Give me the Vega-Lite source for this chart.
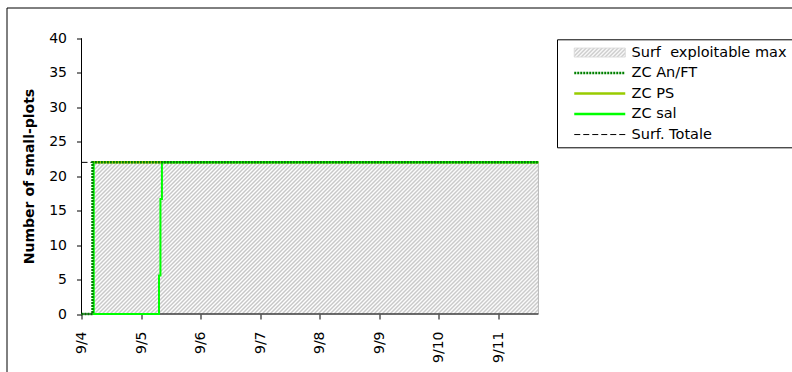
{
  "$schema": "https://vega.github.io/schema/vega-lite/v6.json",
  "width": 786,
  "height": 365,
  "autosize": {"type": "none"},
  "padding": {"left": 6.5, "top": 7.5, "right": 0, "bottom": 0},
  "background": "white",
  "config": {"view": {"stroke": "black", "strokeWidth": 1}},
  "datasets": {
    "series": [
      {"s": "ZC An/FT", "t": 4.0, "v": 0, "o": 1},
      {"s": "ZC An/FT", "t": 4.185, "v": 0, "o": 2},
      {"s": "ZC An/FT", "t": 4.185, "v": 22, "o": 3},
      {"s": "ZC An/FT", "t": 11.67, "v": 22, "o": 4},
      {"s": "ZC PS", "t": 4.195, "v": 22, "o": 1},
      {"s": "ZC PS", "t": 11.67, "v": 22, "o": 2},
      {"s": "ZC sal", "t": 4.205, "v": 22, "o": 1},
      {"s": "ZC sal", "t": 4.205, "v": 0, "o": 2},
      {"s": "ZC sal", "t": 5.301, "v": 0, "o": 3},
      {"s": "ZC sal", "t": 5.301, "v": 5.6, "o": 4},
      {"s": "ZC sal", "t": 5.325, "v": 5.6, "o": 5},
      {"s": "ZC sal", "t": 5.325, "v": 16.7, "o": 6},
      {"s": "ZC sal", "t": 5.35, "v": 16.7, "o": 7},
      {"s": "ZC sal", "t": 5.35, "v": 22, "o": 8},
      {"s": "ZC sal", "t": 11.67, "v": 22, "o": 9},
      {"s": "Surf. Totale", "t": 4.0, "v": 22, "o": 1},
      {"s": "Surf. Totale", "t": 11.67, "v": 22, "o": 2}
    ],
    "surface": [
      {"s": "Surf  exploitable max", "t": 4.205, "t2": 11.67, "v": 22, "v2": 0}
    ],
    "axislines": [
      {"k": "y", "t": 4, "t2": 4, "v": 0, "v2": 40},
      {"k": "x", "t": 4, "t2": 11.67, "v": 0, "v2": 0}
    ]
  },
  "encoding": {
    "x": {
      "field": "t", "type": "quantitative",
      "scale": {"domain": [2.741, 15.935], "nice": false, "zero": false},
      "axis": {
        "values": [4, 5, 6, 7, 8, 9, 10, 11],
        "offset": -58.5, "domain": false, "grid": false,
        "tickSize": 5, "tickColor": "black", "tickWidth": 1,
        "labelAngle": -90, "labelExpr": "'9/' + datum.value",
        "labelPadding": 12, "labelFont": "DejaVu Sans", "labelFontSize": 14,
        "labelColor": "black", "labelFlush": false, "labelOverlap": false,
        "title": null
      }
    },
    "y": {
      "field": "v", "type": "quantitative",
      "scale": {"domain": [-8.487, 44.469], "nice": false, "zero": false},
      "axis": {
        "values": [0, 5, 10, 15, 20, 25, 30, 35, 40],
        "offset": -75, "domain": false, "grid": false,
        "tickSize": 5, "tickColor": "black", "tickWidth": 1,
        "labelPadding": 10, "labelFont": "DejaVu Sans", "labelFontSize": 14,
        "labelColor": "black",
        "title": "Number of small-plots", "titleFont": "DejaVu Sans",
        "titleFontSize": 14, "titleFontWeight": "bold", "titleColor": "black",
        "titlePadding": 12, "titleY": 168.5
      }
    }
  },
  "layer": [
    {
      "data": {"name": "surface"},
      "mark": {
        "type": "rect", "stroke": "#b8b8b8", "strokeWidth": 1,
        "fill": {
          "gradient": "linear", "x1": 0, "y1": 0, "x2": 1.6108, "y2": 0.54876,
          "stops": [
            {"offset":0.0,"color":"#c6c6c6"},{"offset":0.0025,"color":"#fff"},{"offset":0.005,"color":"#c6c6c6"},{"offset":0.0075,"color":"#fff"},
            {"offset":0.01,"color":"#c6c6c6"},{"offset":0.0125,"color":"#fff"},{"offset":0.015,"color":"#c6c6c6"},{"offset":0.0175,"color":"#fff"},
            {"offset":0.02,"color":"#c6c6c6"},{"offset":0.0225,"color":"#fff"},{"offset":0.025,"color":"#c6c6c6"},{"offset":0.0275,"color":"#fff"},
            {"offset":0.03,"color":"#c6c6c6"},{"offset":0.0325,"color":"#fff"},{"offset":0.035,"color":"#c6c6c6"},{"offset":0.0375,"color":"#fff"},
            {"offset":0.04,"color":"#c6c6c6"},{"offset":0.0425,"color":"#fff"},{"offset":0.045,"color":"#c6c6c6"},{"offset":0.0475,"color":"#fff"},
            {"offset":0.05,"color":"#c6c6c6"},{"offset":0.0525,"color":"#fff"},{"offset":0.055,"color":"#c6c6c6"},{"offset":0.0575,"color":"#fff"},
            {"offset":0.06,"color":"#c6c6c6"},{"offset":0.0625,"color":"#fff"},{"offset":0.065,"color":"#c6c6c6"},{"offset":0.0675,"color":"#fff"},
            {"offset":0.07,"color":"#c6c6c6"},{"offset":0.0725,"color":"#fff"},{"offset":0.075,"color":"#c6c6c6"},{"offset":0.0775,"color":"#fff"},
            {"offset":0.08,"color":"#c6c6c6"},{"offset":0.0825,"color":"#fff"},{"offset":0.085,"color":"#c6c6c6"},{"offset":0.0875,"color":"#fff"},
            {"offset":0.09,"color":"#c6c6c6"},{"offset":0.0925,"color":"#fff"},{"offset":0.095,"color":"#c6c6c6"},{"offset":0.0975,"color":"#fff"},
            {"offset":0.10,"color":"#c6c6c6"},{"offset":0.1025,"color":"#fff"},{"offset":0.105,"color":"#c6c6c6"},{"offset":0.1075,"color":"#fff"},
            {"offset":0.11,"color":"#c6c6c6"},{"offset":0.1125,"color":"#fff"},{"offset":0.115,"color":"#c6c6c6"},{"offset":0.1175,"color":"#fff"},
            {"offset":0.12,"color":"#c6c6c6"},{"offset":0.1225,"color":"#fff"},{"offset":0.125,"color":"#c6c6c6"},{"offset":0.1275,"color":"#fff"},
            {"offset":0.13,"color":"#c6c6c6"},{"offset":0.1325,"color":"#fff"},{"offset":0.135,"color":"#c6c6c6"},{"offset":0.1375,"color":"#fff"},
            {"offset":0.14,"color":"#c6c6c6"},{"offset":0.1425,"color":"#fff"},{"offset":0.145,"color":"#c6c6c6"},{"offset":0.1475,"color":"#fff"},
            {"offset":0.15,"color":"#c6c6c6"},{"offset":0.1525,"color":"#fff"},{"offset":0.155,"color":"#c6c6c6"},{"offset":0.1575,"color":"#fff"},
            {"offset":0.16,"color":"#c6c6c6"},{"offset":0.1625,"color":"#fff"},{"offset":0.165,"color":"#c6c6c6"},{"offset":0.1675,"color":"#fff"},
            {"offset":0.17,"color":"#c6c6c6"},{"offset":0.1725,"color":"#fff"},{"offset":0.175,"color":"#c6c6c6"},{"offset":0.1775,"color":"#fff"},
            {"offset":0.18,"color":"#c6c6c6"},{"offset":0.1825,"color":"#fff"},{"offset":0.185,"color":"#c6c6c6"},{"offset":0.1875,"color":"#fff"},
            {"offset":0.19,"color":"#c6c6c6"},{"offset":0.1925,"color":"#fff"},{"offset":0.195,"color":"#c6c6c6"},{"offset":0.1975,"color":"#fff"},
            {"offset":0.20,"color":"#c6c6c6"},{"offset":0.2025,"color":"#fff"},{"offset":0.205,"color":"#c6c6c6"},{"offset":0.2075,"color":"#fff"},
            {"offset":0.21,"color":"#c6c6c6"},{"offset":0.2125,"color":"#fff"},{"offset":0.215,"color":"#c6c6c6"},{"offset":0.2175,"color":"#fff"},
            {"offset":0.22,"color":"#c6c6c6"},{"offset":0.2225,"color":"#fff"},{"offset":0.225,"color":"#c6c6c6"},{"offset":0.2275,"color":"#fff"},
            {"offset":0.23,"color":"#c6c6c6"},{"offset":0.2325,"color":"#fff"},{"offset":0.235,"color":"#c6c6c6"},{"offset":0.2375,"color":"#fff"},
            {"offset":0.24,"color":"#c6c6c6"},{"offset":0.2425,"color":"#fff"},{"offset":0.245,"color":"#c6c6c6"},{"offset":0.2475,"color":"#fff"},
            {"offset":0.25,"color":"#c6c6c6"},{"offset":0.2525,"color":"#fff"},{"offset":0.255,"color":"#c6c6c6"},{"offset":0.2575,"color":"#fff"},
            {"offset":0.26,"color":"#c6c6c6"},{"offset":0.2625,"color":"#fff"},{"offset":0.265,"color":"#c6c6c6"},{"offset":0.2675,"color":"#fff"},
            {"offset":0.27,"color":"#c6c6c6"},{"offset":0.2725,"color":"#fff"},{"offset":0.275,"color":"#c6c6c6"},{"offset":0.2775,"color":"#fff"},
            {"offset":0.28,"color":"#c6c6c6"},{"offset":0.2825,"color":"#fff"},{"offset":0.285,"color":"#c6c6c6"},{"offset":0.2875,"color":"#fff"},
            {"offset":0.29,"color":"#c6c6c6"},{"offset":0.2925,"color":"#fff"},{"offset":0.295,"color":"#c6c6c6"},{"offset":0.2975,"color":"#fff"},
            {"offset":0.30,"color":"#c6c6c6"},{"offset":0.3025,"color":"#fff"},{"offset":0.305,"color":"#c6c6c6"},{"offset":0.3075,"color":"#fff"},
            {"offset":0.31,"color":"#c6c6c6"},{"offset":0.3125,"color":"#fff"},{"offset":0.315,"color":"#c6c6c6"},{"offset":0.3175,"color":"#fff"},
            {"offset":0.32,"color":"#c6c6c6"},{"offset":0.3225,"color":"#fff"},{"offset":0.325,"color":"#c6c6c6"},{"offset":0.3275,"color":"#fff"},
            {"offset":0.33,"color":"#c6c6c6"},{"offset":0.3325,"color":"#fff"},{"offset":0.335,"color":"#c6c6c6"},{"offset":0.3375,"color":"#fff"},
            {"offset":0.34,"color":"#c6c6c6"},{"offset":0.3425,"color":"#fff"},{"offset":0.345,"color":"#c6c6c6"},{"offset":0.3475,"color":"#fff"},
            {"offset":0.35,"color":"#c6c6c6"},{"offset":0.3525,"color":"#fff"},{"offset":0.355,"color":"#c6c6c6"},{"offset":0.3575,"color":"#fff"},
            {"offset":0.36,"color":"#c6c6c6"},{"offset":0.3625,"color":"#fff"},{"offset":0.365,"color":"#c6c6c6"},{"offset":0.3675,"color":"#fff"},
            {"offset":0.37,"color":"#c6c6c6"},{"offset":0.3725,"color":"#fff"},{"offset":0.375,"color":"#c6c6c6"},{"offset":0.3775,"color":"#fff"},
            {"offset":0.38,"color":"#c6c6c6"},{"offset":0.3825,"color":"#fff"},{"offset":0.385,"color":"#c6c6c6"},{"offset":0.3875,"color":"#fff"},
            {"offset":0.39,"color":"#c6c6c6"},{"offset":0.3925,"color":"#fff"},{"offset":0.395,"color":"#c6c6c6"},{"offset":0.3975,"color":"#fff"},
            {"offset":0.40,"color":"#c6c6c6"},{"offset":0.4025,"color":"#fff"},{"offset":0.405,"color":"#c6c6c6"},{"offset":0.4075,"color":"#fff"},
            {"offset":0.41,"color":"#c6c6c6"},{"offset":0.4125,"color":"#fff"},{"offset":0.415,"color":"#c6c6c6"},{"offset":0.4175,"color":"#fff"},
            {"offset":0.42,"color":"#c6c6c6"},{"offset":0.4225,"color":"#fff"},{"offset":0.425,"color":"#c6c6c6"},{"offset":0.4275,"color":"#fff"},
            {"offset":0.43,"color":"#c6c6c6"},{"offset":0.4325,"color":"#fff"},{"offset":0.435,"color":"#c6c6c6"},{"offset":0.4375,"color":"#fff"},
            {"offset":0.44,"color":"#c6c6c6"},{"offset":0.4425,"color":"#fff"},{"offset":0.445,"color":"#c6c6c6"},{"offset":0.4475,"color":"#fff"},
            {"offset":0.45,"color":"#c6c6c6"},{"offset":0.4525,"color":"#fff"},{"offset":0.455,"color":"#c6c6c6"},{"offset":0.4575,"color":"#fff"},
            {"offset":0.46,"color":"#c6c6c6"},{"offset":0.4625,"color":"#fff"},{"offset":0.465,"color":"#c6c6c6"},{"offset":0.4675,"color":"#fff"},
            {"offset":0.47,"color":"#c6c6c6"},{"offset":0.4725,"color":"#fff"},{"offset":0.475,"color":"#c6c6c6"},{"offset":0.4775,"color":"#fff"},
            {"offset":0.48,"color":"#c6c6c6"},{"offset":0.4825,"color":"#fff"},{"offset":0.485,"color":"#c6c6c6"},{"offset":0.4875,"color":"#fff"},
            {"offset":0.49,"color":"#c6c6c6"},{"offset":0.4925,"color":"#fff"},{"offset":0.495,"color":"#c6c6c6"},{"offset":0.4975,"color":"#fff"},
            {"offset":0.50,"color":"#c6c6c6"},{"offset":0.5025,"color":"#fff"},{"offset":0.505,"color":"#c6c6c6"},{"offset":0.5075,"color":"#fff"},
            {"offset":0.51,"color":"#c6c6c6"},{"offset":0.5125,"color":"#fff"},{"offset":0.515,"color":"#c6c6c6"},{"offset":0.5175,"color":"#fff"},
            {"offset":0.52,"color":"#c6c6c6"},{"offset":0.5225,"color":"#fff"},{"offset":0.525,"color":"#c6c6c6"},{"offset":0.5275,"color":"#fff"},
            {"offset":0.53,"color":"#c6c6c6"},{"offset":0.5325,"color":"#fff"},{"offset":0.535,"color":"#c6c6c6"},{"offset":0.5375,"color":"#fff"},
            {"offset":0.54,"color":"#c6c6c6"},{"offset":0.5425,"color":"#fff"},{"offset":0.545,"color":"#c6c6c6"},{"offset":0.5475,"color":"#fff"},
            {"offset":0.55,"color":"#c6c6c6"},{"offset":0.5525,"color":"#fff"},{"offset":0.555,"color":"#c6c6c6"},{"offset":0.5575,"color":"#fff"},
            {"offset":0.56,"color":"#c6c6c6"},{"offset":0.5625,"color":"#fff"},{"offset":0.565,"color":"#c6c6c6"},{"offset":0.5675,"color":"#fff"},
            {"offset":0.57,"color":"#c6c6c6"},{"offset":0.5725,"color":"#fff"},{"offset":0.575,"color":"#c6c6c6"},{"offset":0.5775,"color":"#fff"},
            {"offset":0.58,"color":"#c6c6c6"},{"offset":0.5825,"color":"#fff"},{"offset":0.585,"color":"#c6c6c6"},{"offset":0.5875,"color":"#fff"},
            {"offset":0.59,"color":"#c6c6c6"},{"offset":0.5925,"color":"#fff"},{"offset":0.595,"color":"#c6c6c6"},{"offset":0.5975,"color":"#fff"},
            {"offset":0.60,"color":"#c6c6c6"},{"offset":0.6025,"color":"#fff"},{"offset":0.605,"color":"#c6c6c6"},{"offset":0.6075,"color":"#fff"},
            {"offset":0.61,"color":"#c6c6c6"},{"offset":0.6125,"color":"#fff"},{"offset":0.615,"color":"#c6c6c6"},{"offset":0.6175,"color":"#fff"},
            {"offset":0.62,"color":"#c6c6c6"},{"offset":0.6225,"color":"#fff"},{"offset":0.625,"color":"#c6c6c6"},{"offset":0.6275,"color":"#fff"},
            {"offset":0.63,"color":"#c6c6c6"},{"offset":0.6325,"color":"#fff"},{"offset":0.635,"color":"#c6c6c6"},{"offset":0.6375,"color":"#fff"},
            {"offset":0.64,"color":"#c6c6c6"},{"offset":0.6425,"color":"#fff"},{"offset":0.645,"color":"#c6c6c6"},{"offset":0.6475,"color":"#fff"},
            {"offset":0.65,"color":"#c6c6c6"},{"offset":0.6525,"color":"#fff"},{"offset":0.655,"color":"#c6c6c6"},{"offset":0.6575,"color":"#fff"},
            {"offset":0.66,"color":"#c6c6c6"},{"offset":0.6625,"color":"#fff"},{"offset":0.665,"color":"#c6c6c6"},{"offset":0.6675,"color":"#fff"},
            {"offset":0.67,"color":"#c6c6c6"},{"offset":0.6725,"color":"#fff"},{"offset":0.675,"color":"#c6c6c6"},{"offset":0.6775,"color":"#fff"},
            {"offset":0.68,"color":"#c6c6c6"},{"offset":0.6825,"color":"#fff"},{"offset":0.685,"color":"#c6c6c6"},{"offset":0.6875,"color":"#fff"},
            {"offset":0.69,"color":"#c6c6c6"},{"offset":0.6925,"color":"#fff"},{"offset":0.695,"color":"#c6c6c6"},{"offset":0.6975,"color":"#fff"},
            {"offset":0.70,"color":"#c6c6c6"},{"offset":0.7025,"color":"#fff"},{"offset":0.705,"color":"#c6c6c6"},{"offset":0.7075,"color":"#fff"},
            {"offset":0.71,"color":"#c6c6c6"},{"offset":0.7125,"color":"#fff"},{"offset":0.715,"color":"#c6c6c6"},{"offset":0.7175,"color":"#fff"},
            {"offset":0.72,"color":"#c6c6c6"},{"offset":0.7225,"color":"#fff"},{"offset":0.725,"color":"#c6c6c6"},{"offset":0.7275,"color":"#fff"},
            {"offset":0.73,"color":"#c6c6c6"},{"offset":0.7325,"color":"#fff"},{"offset":0.735,"color":"#c6c6c6"},{"offset":0.7375,"color":"#fff"},
            {"offset":0.74,"color":"#c6c6c6"},{"offset":0.7425,"color":"#fff"},{"offset":0.745,"color":"#c6c6c6"},{"offset":0.7475,"color":"#fff"},
            {"offset":0.75,"color":"#c6c6c6"}
          ]
        }
      },
      "encoding": {
        "x2": {"field": "t2"},
        "y2": {"field": "v2"}
      }
    },
    {
      "data": {"name": "axislines"},
      "mark": {"type": "rule", "color": "black", "strokeWidth": 1},
      "encoding": {
        "x2": {"field": "t2"},
        "y2": {"field": "v2"}
      }
    },
    {
      "data": {"name": "series"},
      "transform": [{"filter": "datum.s === 'Surf. Totale'"}],
      "mark": {"type": "line", "strokeWidth": 1, "strokeDash": [6, 3]},
      "encoding": {
        "order": {"field": "o"},
        "color": {
          "field": "s", "type": "nominal",
          "scale": {
            "domain": ["Surf  exploitable max", "ZC An/FT", "ZC PS", "ZC sal", "Surf. Totale"],
            "range": ["#dadada", "#008000", "#99cc00", "#00ff00", "#000000"]
          },
          "legend": {
            "orient": "none", "legendX": 550.5, "legendY": 31.8,
            "title": null, "strokeColor": "black", "fillColor": "white",
            "padding": 6, "rowPadding": 5.5,
            "labelFont": "DejaVu Sans", "labelFontSize": 14.5, "labelColor": "black",
            "symbolSize": 100, "labelOffset": 54,
            "labelExpr": "datum.value === 'Surf  exploitable max' ? 'Surf\u00a0 exploitable max' : datum.label",
            "encode": {
              "symbols": {
                "update": {
                  "shape": {"signal": "datum.value === 'Surf  exploitable max' ? 'M0.8,-0.9H11V0.9H0.8Z' : 'M0.8,0H11'"},
                  "stroke": {"signal": "datum.value === 'ZC An/FT' ? '#008000' : datum.value === 'ZC PS' ? '#99cc00' : datum.value === 'ZC sal' ? '#00ff00' : datum.value === 'Surf. Totale' ? '#000000' : '#b8b8b8'"},
                  "fill": {"signal": "datum.value === 'Surf  exploitable max' ? {gradient: 'linear', x1: 0, y1: 0, x2: 1.141, y2: 0.2013, stops: [{offset: 0, color: '#c6c6c6'}, {offset: 0.0333, color: '#fff'}, {offset: 0.0667, color: '#c6c6c6'}, {offset: 0.1, color: '#fff'}, {offset: 0.1333, color: '#c6c6c6'}, {offset: 0.1667, color: '#fff'}, {offset: 0.2, color: '#c6c6c6'}, {offset: 0.2333, color: '#fff'}, {offset: 0.2667, color: '#c6c6c6'}, {offset: 0.3, color: '#fff'}, {offset: 0.3333, color: '#c6c6c6'}, {offset: 0.3667, color: '#fff'}, {offset: 0.4, color: '#c6c6c6'}, {offset: 0.4333, color: '#fff'}, {offset: 0.4667, color: '#c6c6c6'}, {offset: 0.5, color: '#fff'}, {offset: 0.5333, color: '#c6c6c6'}, {offset: 0.5667, color: '#fff'}, {offset: 0.6, color: '#c6c6c6'}, {offset: 0.6333, color: '#fff'}, {offset: 0.6667, color: '#c6c6c6'}, {offset: 0.7, color: '#fff'}, {offset: 0.7333, color: '#c6c6c6'}, {offset: 0.7667, color: '#fff'}, {offset: 0.8, color: '#c6c6c6'}, {offset: 0.8333, color: '#fff'}, {offset: 0.8667, color: '#c6c6c6'}, {offset: 0.9, color: '#fff'}, {offset: 0.9333, color: '#c6c6c6'}, {offset: 0.9667, color: '#fff'}, {offset: 1, color: '#c6c6c6'}]} : 'transparent'"},
                  "strokeDash": {"signal": "datum.value === 'Surf. Totale' ? [6, 3] : datum.value === 'ZC An/FT' ? [2, 1] : [1, 0]"},
                  "strokeWidth": {"signal": "datum.value === 'Surf. Totale' || datum.value === 'Surf  exploitable max' ? 1 : 2.5"},
                  "opacity": {"value": 1}
                }
              }
            }
          }
        }
      }
    },
    {
      "data": {"name": "series"},
      "transform": [{"filter": "datum.s === 'ZC PS'"}],
      "mark": {"type": "line", "strokeWidth": 2.5},
      "encoding": {
        "order": {"field": "o"},
        "color": {"field": "s", "type": "nominal", "legend": null}
      }
    },
    {
      "data": {"name": "series"},
      "transform": [{"filter": "datum.s === 'ZC sal'"}],
      "mark": {"type": "line", "strokeWidth": 2},
      "encoding": {
        "order": {"field": "o"},
        "color": {"field": "s", "type": "nominal", "legend": null}
      }
    },
    {
      "data": {"name": "series"},
      "transform": [{"filter": "datum.s === 'ZC An/FT'"}],
      "mark": {"type": "line", "strokeWidth": 2.5, "strokeDash": [2, 1]},
      "encoding": {
        "order": {"field": "o"},
        "color": {"field": "s", "type": "nominal", "legend": null}
      }
    }
  ]
}
